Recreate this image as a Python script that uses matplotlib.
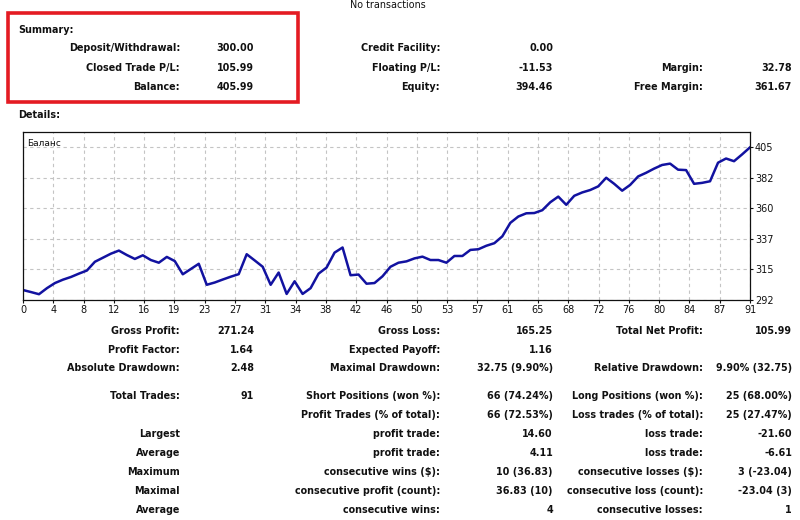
import numpy as np
import matplotlib
matplotlib.use("Agg")
import matplotlib.pyplot as plt
from matplotlib.patches import Rectangle

# balance after each closed trade (0 = initial deposit)
balance = [
    300.0, 298.5, 296.9, 301.4, 305.2, 307.7, 309.7, 312.2, 314.5, 321.0,
    324.0, 327.0, 329.3, 326.0, 323.1, 325.8, 322.3, 320.3, 324.6, 321.5,
    311.7, 315.6, 319.5, 303.9, 305.6, 307.8, 309.9, 311.8, 326.6, 322.0,
    317.3, 303.9, 313.0, 297.1, 306.5, 297.1, 301.4, 312.2, 316.7, 327.8,
    331.6, 311.0, 311.5, 304.7, 305.2, 310.2, 317.3, 320.3, 321.3, 323.5,
    324.8, 322.3, 322.3, 320.3, 325.3, 325.3, 329.8, 330.3, 332.9, 334.8,
    339.9, 349.9, 354.6, 357.0, 357.2, 359.3, 365.2, 369.4, 363.3, 370.0,
    372.5, 374.3, 377.0, 383.4, 378.9, 373.8, 378.1, 384.4, 387.1, 390.2,
    392.9, 393.9, 389.4, 389.1, 378.9, 379.6, 380.8, 394.6, 397.7, 395.7,
    400.7, 405.99,
]
x_labels = ["0", "4", "8", "12", "16", "19", "23", "27", "31", "34", "38", "42",
            "46", "50", "53", "57", "61", "65", "68", "72", "76", "80", "84", "87", "91"]
y_labels = ["292", "315", "337", "360", "382", "405"]

summary_rows = [
    ("Deposit/Withdrawal:", "300.00", "Credit Facility:", "0.00", "", ""),
    ("Closed Trade P/L:", "105.99", "Floating P/L:", "-11.53", "Margin:", "32.78"),
    ("Balance:", "405.99", "Equity:", "394.46", "Free Margin:", "361.67"),
]

details_rows = [
    ("Gross Profit:", "271.24", "Gross Loss:", "165.25", "Total Net Profit:", "105.99"),
    ("Profit Factor:", "1.64", "Expected Payoff:", "1.16", "", ""),
    ("Absolute Drawdown:", "2.48", "Maximal Drawdown:", "32.75 (9.90%)", "Relative Drawdown:", "9.90% (32.75)"),
    ("Total Trades:", "91", "Short Positions (won %):", "66 (74.24%)", "Long Positions (won %):", "25 (68.00%)"),
    ("", "", "Profit Trades (% of total):", "66 (72.53%)", "Loss trades (% of total):", "25 (27.47%)"),
    ("Largest", "", "profit trade:", "14.60", "loss trade:", "-21.60"),
    ("Average", "", "profit trade:", "4.11", "loss trade:", "-6.61"),
    ("Maximum", "", "consecutive wins ($):", "10 (36.83)", "consecutive losses ($):", "3 (-23.04)"),
    ("Maximal", "", "consecutive profit (count):", "36.83 (10)", "consecutive loss (count):", "-23.04 (3)"),
    ("Average", "", "consecutive wins:", "4", "consecutive losses:", "1"),
]

W, H = 800, 520
fig = plt.figure(figsize=(W / 100, H / 100), dpi=100, facecolor="white")

TXT = dict(family="DejaVu Sans", fontweight="bold", fontsize=6.9, color="#111111", va="center")
col_right = [180, 254, 440, 553, 703, 792]


def put(x, y, s, ha="right", **kw):
    opts = dict(TXT)
    opts.update(kw)
    fig.text(x / W, 1 - y / H, s, ha=ha, **opts)


def put_row(y, row):
    for cx, s in zip(col_right, row):
        if s:
            put(cx, y, s)


put(388, 5, "No transactions", ha="center", fontweight="normal")

# red highlight box round the summary
fig.patches.append(Rectangle((8 / W, 1 - 102 / H), 290 / W, 89 / H, transform=fig.transFigure,
                             fill=False, edgecolor="#e41b23", linewidth=2.6))

put(18, 30, "Summary:", ha="left")
for y, row in zip([48, 68, 87], summary_rows):
    put_row(y, row)

put(18, 115, "Details:", ha="left")

# ===== balance chart =====
ax = fig.add_axes([23 / W, 1 - 300 / H, 727 / W, 168.5 / H])
xs = np.arange(len(balance))
ax.plot(xs, balance, color="#1212a0", linewidth=1.8, solid_joinstyle="round")
ax.set_xlim(0, len(balance) - 1)
ylo, yhi = 292.6, 406.0
ax.set_ylim(ylo, yhi + (yhi - ylo) * 15.6 / 150.4)
ax.set_xticks(np.linspace(0, len(balance) - 1, len(x_labels)))
ax.set_xticklabels(x_labels)
ax.set_yticks(np.linspace(ylo, yhi, len(y_labels)))
ax.set_yticklabels(y_labels)
ax.yaxis.tick_right()
ax.tick_params(axis="both", labelsize=7, colors="#111111", length=2, width=0.8, pad=1.5)
ax.grid(True, color="#c4c4c4", linestyle=(0, (3, 3)), linewidth=0.8)
for s in ax.spines.values():
    s.set_color("#111111")
    s.set_linewidth(0.9)
ax.text(0.005, 0.955, "Баланс", transform=ax.transAxes, fontsize=6.5, color="#111111",
        ha="left", va="top")

# ===== statistics table =====
for y, row in zip([331, 350, 368, 396, 415, 434, 453, 472, 491, 510], details_rows):
    put_row(y, row)

fig.savefig("out.png", dpi=100, facecolor="white")
